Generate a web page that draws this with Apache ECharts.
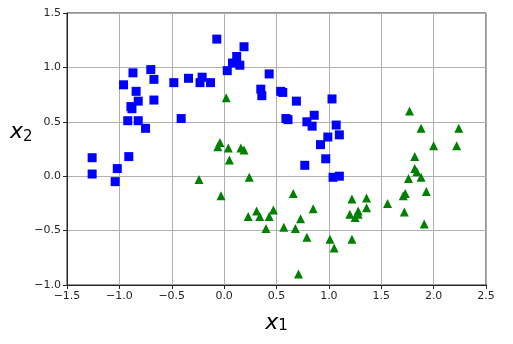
<!DOCTYPE html>
<html><head><meta charset="utf-8">
<script src="https://cdn.jsdelivr.net/npm/echarts@6/dist/echarts.min.js"></script>
<style>html,body{margin:0;padding:0;background:#fff}#c{width:513px;height:344px}</style>
</head><body><div id="c"></div>
<script>
var xTicks = [-1.5, -1.0, -0.5, 0.0, 0.5, 1.0, 1.5, 2.0, 2.5];
var yTicks = [-1.0, -0.5, 0.0, 0.5, 1.0, 1.5];
var class0 = [
 [-0.07,1.26],[0.19,1.19],[0.12,1.10],[0.08,1.04],[0.15,1.02],[0.03,0.97],[0.43,0.94],
 [-0.87,0.95],[-0.70,0.98],[-0.67,0.89],[-0.96,0.84],[-0.84,0.78],[-0.82,0.69],[-0.89,0.64],
 [-0.88,0.62],[-0.67,0.70],[-0.48,0.86],[-0.34,0.90],[-0.21,0.91],[-0.23,0.86],[-0.13,0.86],
 [0.35,0.80],[0.36,0.74],[0.54,0.78],[0.56,0.77],[-0.92,0.51],[-0.82,0.51],[-0.75,0.44],
 [-0.41,0.53],[-1.26,0.17],[-0.91,0.18],[-1.26,0.02],[-1.02,0.07],[-1.04,-0.05],[0.69,0.69],
 [1.03,0.71],[0.59,0.53],[0.61,0.52],[0.86,0.56],[0.79,0.50],[0.84,0.46],[1.07,0.47],
 [1.10,0.38],[0.99,0.36],[0.92,0.29],[0.97,0.16],[0.77,0.10],[1.04,-0.01],[1.10,0.00]
];
var class1 = [
 [0.02,0.72],[-0.04,0.31],[-0.06,0.27],[0.04,0.26],[0.16,0.26],[0.19,0.24],[0.05,0.15],
 [-0.24,-0.03],[0.24,-0.01],[-0.03,-0.18],[0.31,-0.32],[0.23,-0.37],[0.34,-0.37],[0.43,-0.37],
 [0.47,-0.31],[0.40,-0.48],[1.77,0.60],[1.88,0.44],[2.24,0.44],[2.00,0.28],[2.22,0.28],
 [1.82,0.18],[1.82,0.07],[1.84,0.04],[1.76,-0.02],[1.88,-0.01],[1.93,-0.14],[1.71,-0.18],
 [1.73,-0.16],[1.56,-0.25],[1.36,-0.20],[1.36,-0.29],[1.22,-0.21],[1.20,-0.35],[1.25,-0.38],
 [1.28,-0.32],[1.28,-0.35],[1.72,-0.33],[1.91,-0.44],[1.22,-0.58],[1.01,-0.58],[1.05,-0.66],
 [0.79,-0.56],[0.85,-0.30],[0.73,-0.39],[0.68,-0.48],[0.57,-0.47],[0.66,-0.16],[0.71,-0.90]
];

function fmt(v){ return v.toFixed(1).replace('-', '\u2212'); }
var chart = echarts.init(document.getElementById('c'), null, {renderer:'canvas'});
var tickLabel = {fontFamily:'DejaVu Sans', fontSize:11, color:'#262626', formatter:fmt};
chart.setOption({
  animation:false,
  grid:{left:67, right:27, top:13, bottom:59, show:true, borderColor:'#262626', borderWidth:1, backgroundColor:'transparent'},
  xAxis:{type:'value', min:xTicks[0], max:xTicks[xTicks.length-1], interval:0.5,
    axisLine:{show:true, onZero:false, lineStyle:{color:'#262626', width:1}},
    axisTick:{show:true, inside:false, length:4, lineStyle:{color:'#262626'}},
    axisLabel:Object.assign({margin:6}, tickLabel),
    splitLine:{show:true, lineStyle:{color:'#b0b0b0', width:1}},
    name:'{x|x}{s|1}', nameLocation:'middle', nameGap:24,
    nameTextStyle:{rich:{x:{fontFamily:'DejaVu Sans', fontStyle:'italic', fontSize:22, color:'#000', verticalAlign:'bottom'},
                         s:{fontFamily:'DejaVu Sans', fontSize:15, color:'#000', padding:[10,0,0,0]}}}
  },
  yAxis:{type:'value', min:yTicks[0], max:yTicks[yTicks.length-1], interval:0.5,
    axisLine:{show:true, onZero:false, lineStyle:{color:'#262626', width:1}},
    axisTick:{show:true, inside:false, length:4, lineStyle:{color:'#262626'}},
    axisLabel:Object.assign({margin:6}, tickLabel),
    splitLine:{show:true, lineStyle:{color:'#b0b0b0', width:1}}
  },
  graphic:[{type:'text', left:10, top:121, style:{rich:{x:{fontFamily:'DejaVu Sans', fontStyle:'italic', fontSize:22, fill:'#000'},
      s:{fontFamily:'DejaVu Sans', fontSize:15, fill:'#000', padding:[10,0,0,0]}}, text:'{x|x}{s|2}'}}],
  series:[
    {type:'scatter', data:class0, symbol:'rect', symbolSize:9, itemStyle:{color:'#0000ff', opacity:1}, z:3},
    {type:'scatter', data:class1, symbol:'triangle', symbolSize:9, itemStyle:{color:'#008000', opacity:1}, z:3}
  ]
});
</script></body></html>
